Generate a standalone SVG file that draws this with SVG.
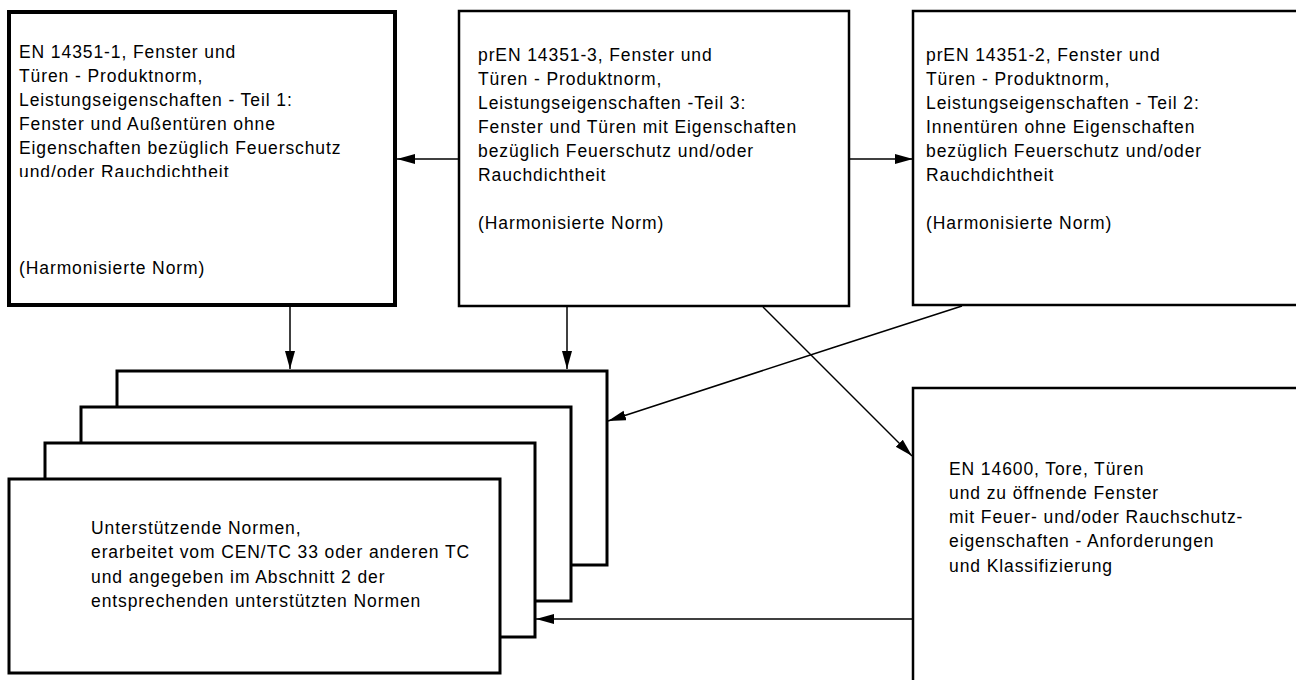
<svg xmlns="http://www.w3.org/2000/svg" width="1296" height="680" viewBox="0 0 1296 680">
<style>
.box{fill:#fff;stroke:#000;stroke-width:2.5}
.thick{stroke-width:4}
.stk{fill:#fff;stroke:#000;stroke-width:3}
.t{font-family:"Liberation Sans",Arial,sans-serif;font-size:17.5px;letter-spacing:0.9px;fill:#000}
.c{fill:none;stroke:#000;stroke-width:1.5}
</style>
<defs>
<marker id="ah" markerUnits="userSpaceOnUse" markerWidth="19" markerHeight="11" refX="18" refY="5" orient="auto">
<path d="M0,0 L18,5 L0,10 z" fill="#000"/>
</marker>
<clipPath id="cl1"><rect x="0" y="0" width="400" height="177"/></clipPath>
</defs>
<rect width="1296" height="680" fill="#fff"/>

<g id="n1">
<rect class="box thick" x="9" y="12" width="386" height="293"/>
<text class="t" x="19" y="58">EN 14351-1, Fenster und</text>
<text class="t" x="19" y="82">Türen - Produktnorm,</text>
<text class="t" x="19" y="106">Leistungseigenschaften - Teil 1:</text>
<text class="t" x="19" y="130">Fenster und Außentüren ohne</text>
<text class="t" x="19" y="154">Eigenschaften bezüglich Feuerschutz</text>
<text class="t" x="19" y="178" clip-path="url(#cl1)">und/oder Rauchdichtheit</text>
<text class="t" x="19" y="274">(Harmonisierte Norm)</text>
</g>

<g id="n3">
<rect class="box" x="459" y="11" width="390" height="295"/>
<text class="t" x="478" y="61">prEN 14351-3, Fenster und</text>
<text class="t" x="478" y="85">Türen - Produktnorm,</text>
<text class="t" x="478" y="109">Leistungseigenschaften -Teil 3:</text>
<text class="t" x="478" y="133">Fenster und Türen mit Eigenschaften</text>
<text class="t" x="478" y="157">bezüglich Feuerschutz und/oder</text>
<text class="t" x="478" y="181">Rauchdichtheit</text>
<text class="t" x="478" y="229">(Harmonisierte Norm)</text>
</g>

<g id="n2">
<rect class="box" x="913" y="11" width="400" height="294"/>
<text class="t" x="926" y="61">prEN 14351-2, Fenster und</text>
<text class="t" x="926" y="85">Türen - Produktnorm,</text>
<text class="t" x="926" y="109">Leistungseigenschaften - Teil 2:</text>
<text class="t" x="926" y="133">Innentüren ohne Eigenschaften</text>
<text class="t" x="926" y="157">bezüglich Feuerschutz und/oder</text>
<text class="t" x="926" y="181">Rauchdichtheit</text>
<text class="t" x="926" y="229">(Harmonisierte Norm)</text>
</g>

<g id="support">
<rect class="stk" x="117" y="371" width="490" height="194"/>
<rect class="stk" x="81" y="407" width="490" height="194"/>
<rect class="stk" x="45" y="443" width="490" height="194"/>
<rect class="stk" x="9" y="479" width="491" height="194"/>
<text class="t" x="91" y="534">Unterstützende Normen,</text>
<text class="t" x="91" y="558">erarbeitet vom CEN/TC 33 oder anderen TC</text>
<text class="t" x="91" y="583">und angegeben im Abschnitt 2 der</text>
<text class="t" x="91" y="607">entsprechenden unterstützten Normen</text>
</g>

<g id="en14600">
<rect class="box" x="913" y="388" width="400" height="300"/>
<text class="t" x="949" y="475">EN 14600, Tore, Türen</text>
<text class="t" x="949" y="499">und zu öffnende Fenster</text>
<text class="t" x="949" y="523">mit Feuer- und/oder Rauchschutz-</text>
<text class="t" x="949" y="547">eigenschaften - Anforderungen</text>
<text class="t" x="949" y="572">und Klassifizierung</text>
</g>

<g id="connectors">
<line class="c" x1="459" y1="159" x2="397" y2="159" marker-end="url(#ah)"/>
<line class="c" x1="849" y1="159" x2="913" y2="159" marker-end="url(#ah)"/>
<line class="c" x1="290" y1="307" x2="290" y2="369" marker-end="url(#ah)"/>
<line class="c" x1="567" y1="307" x2="567" y2="369" marker-end="url(#ah)"/>
<polyline class="c" points="962,306 835,347 608,421" marker-end="url(#ah)"/>
<line class="c" x1="763" y1="307" x2="912" y2="456" marker-end="url(#ah)"/>
<line class="c" x1="913" y1="619" x2="536" y2="619" marker-end="url(#ah)"/>
</g>
</svg>
